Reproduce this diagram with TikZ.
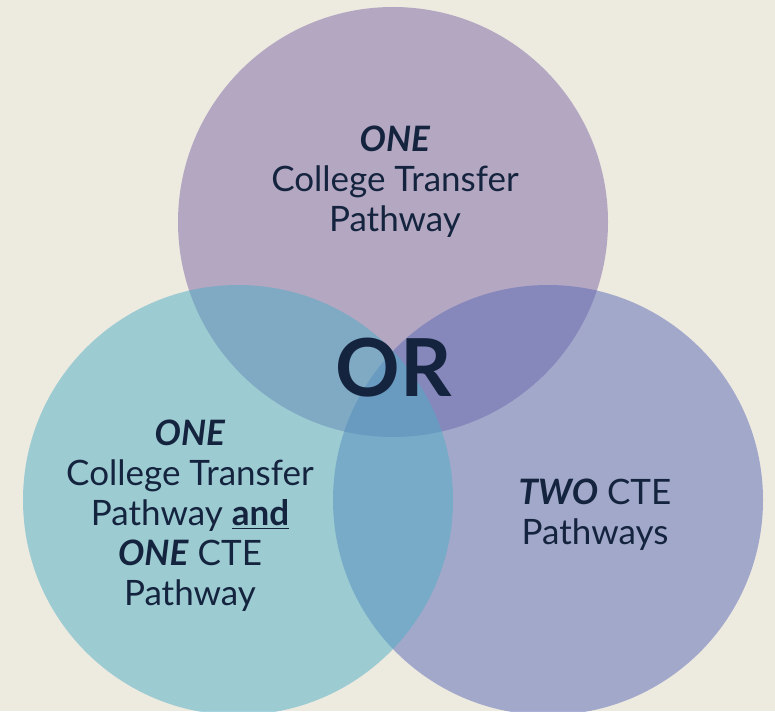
\documentclass[tikz,border=0pt]{standalone}
\usepackage{fontspec}
\setmainfont{Lato}
\definecolor{bgcream}{HTML}{EDEAE0}
\definecolor{toppurple}{HTML}{7D66A6}
\definecolor{leftteal}{HTML}{4DAEC6}
\definecolor{rightblue}{HTML}{5968B6}
\definecolor{navytext}{HTML}{15243E}
\tikzset{
  venn/.style={opacity=0.5},
  label text/.style={text=navytext, align=center, inner sep=0pt,
    font=\fontsize{17.5}{20}\selectfont},
}
\begin{document}
\begin{tikzpicture}[x=0.5pt,y=-0.5pt]

        % Sfondo e riquadro
        \fill[bgcream] (0,0) rectangle (775,711);
        \useasboundingbox (0,0) rectangle (775,711);

        % I tre cerchi
        \begin{scope}
          \clip (0,0) rectangle (775,711);
          \fill[toppurple,venn] (393,222) circle[radius=107.5pt];
          \fill[rightblue,venn] (548,500) circle[radius=107.5pt];
          \fill[leftteal,venn] (238,500) circle[radius=107.5pt];
        \end{scope}

        % Testi
        \node[label text] (top) at (395,182)
          {\textbf{\textit{ONE}}\\College Transfer\\Pathway};
        \node[label text, font=\fontsize{40}{42}\selectfont\bfseries] (or) at (394,368) {OR};
        \node[label text] (left) at (190,516)
          {\textbf{\textit{ONE}}\\College Transfer\\Pathway \underline{\textbf{and}}\\\textbf{\textit{ONE}} CTE\\Pathway};
        \node[label text] (right) at (595,515)
          {\textbf{\textit{TWO}} CTE\\Pathways};

\end{tikzpicture}
\end{document}
